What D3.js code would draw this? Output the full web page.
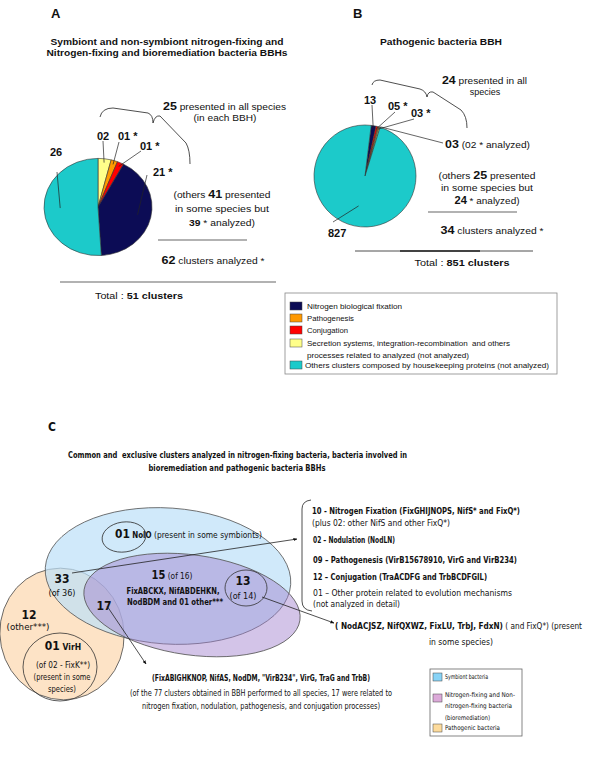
<!DOCTYPE html>
<html>
<head>
<meta charset="utf-8">
<script src="https://cdn.jsdelivr.net/npm/d3@7"></script>
<style>
  body { margin: 0; background: #fff; }
  svg { display: block; }
  text { white-space: pre; }
</style>
</head>
<body>
<svg id="fig" width="600" height="761"></svg>
<script>
// ---- data ----
const categories = [
  "Nitrogen biological fixation",
  "Pathogenesis",
  "Conjugation",
  "Secretion systems, integration-recombination  and others|processes related to analyzed (not analyzed)",
  "Others clusters composed by housekeeping proteins (not analyzed)"
];
const catColors = ["#0c0c55", "#ff9900", "#ff0000", "#ffff8a", "#1ccaca"];

// pie A, clockwise from 12 o'clock: secretion, pathogenesis, conjugation, N fixation, others
const pieAOrder = [3, 1, 2, 0, 4];
const pieAValues = [2, 1, 1, 21, 26];
const pieALabels = ["02", "01 *", "01 *", "21 *", "26"];

// pie B, clockwise: N fixation, conjugation, pathogenesis, secretion, others
const pieBOrder = [0, 2, 1, 3, 4];
const pieBValues = [13, 5, 3, 3, 827];
const pieBLabels = ["13", "05 *", "03 *", "03", "827"];

const vennGroups = [
  "Symbiont bacteria",
  "Nitrogen-fixing and Non-|nitrogen-fixing bacteria|(bioremediation)",
  "Pathogenic bacteria"
];
const vennColors = ["#88d3f6", "#dcaad9", "#fddb9c"];

const SANS = "'Liberation Sans', Arial, sans-serif";
const NARROW = "'Liberation Sans Narrow', 'DejaVu Sans Condensed', sans-serif";

const svg = d3.select("#fig");

svg.append("defs").append("marker")
    .attr("id", "arr")
    .attr("viewBox", "0 0 10 10")
    .attr("refX", 9).attr("refY", 5)
    .attr("markerWidth", 5).attr("markerHeight", 5)
    .attr("orient", "auto")
  .append("path")
    .attr("d", "M0,1 L10,5 L0,9 Z")
    .attr("fill", "#111");

// text helper: yc is the visual middle of the line
function label(x, yc, parts, opt = {}) {
  const size = opt.size || 9;
  const t = svg.append("text")
      .attr("x", x)
      .attr("y", yc + size * 0.35)
      .attr("text-anchor", opt.anchor || "start")
      .attr("font-family", opt.font || SANS)
      .attr("font-size", size)
      .attr("font-weight", opt.bold ? "bold" : null)
      .attr("fill", "#111");
  if (opt.len) t.attr("textLength", opt.len).attr("lengthAdjust", "spacingAndGlyphs");
  parts.forEach(p => {
    const s = typeof p === "string" ? { t: p } : p;
    t.append("tspan").text(s.t)
      .attr("font-weight", s.b ? "bold" : null)
      .attr("font-size", s.s || null);
  });
  return t;
}

function line(x1, y1, x2, y2, w = 0.8, marker) {
  const l = svg.append("line")
      .attr("x1", x1).attr("y1", y1).attr("x2", x2).attr("y2", y2)
      .attr("stroke", "#222").attr("stroke-width", w);
  if (marker) l.attr("marker-end", "url(#arr)");
  return l;
}

function curve(d, w = 0.8) {
  svg.append("path").attr("d", d).attr("fill", "none")
      .attr("stroke", "#222").attr("stroke-width", w);
}

// ================= A =================
label(51, 13, ["A"], { size: 13, bold: true });
label(167, 42, ["Symbiont and non-symbiont nitrogen-fixing and"], { anchor: "middle", bold: true, len: 233 });
label(167, 53, ["Nitrogen-fixing and bioremediation bacteria BBHs"], { anchor: "middle", bold: true, len: 241 });

const pieA = { cx: 98, cy: 207, r: 54, sy: 0.9 };
const arcsA = d3.pie().sort(null)(pieAValues);
const arcA = d3.arc().innerRadius(0).outerRadius(pieA.r);
const gA = svg.append("g").attr("transform", `translate(${pieA.cx},${pieA.cy}) scale(1,${pieA.sy})`);
gA.selectAll("path").data(arcsA).join("path")
    .attr("d", arcA)
    .attr("fill", (d, i) => catColors[pieAOrder[i]])
    .attr("stroke", "#333")
    .attr("stroke-width", 0.6)
    .attr("vector-effect", "non-scaling-stroke");

// slice labels and leaders
const labA = [[97, 136], [118, 136], [140, 146], [153, 172], [50, 152]];
const leadA = [[103, 141], [119, 142], [141, 151], [147, 175], [57, 172]];
const leadRA = [0.92, 0.92, 0.92, 0.75, 0.7];
arcsA.forEach((d, i) => {
  const [x, y] = labA[i];
  label(x, y, [pieALabels[i]], { size: 11, bold: true });
  const m = (d.startAngle + d.endAngle) / 2, rr = pieA.r * leadRA[i];
  line(leadA[i][0], leadA[i][1], pieA.cx + rr * Math.sin(m), pieA.cy - rr * Math.cos(m) * pieA.sy, 0.7);
});

curve("M100,117 Q102,108 113,108 L148,113 Q153,115 153,123 Q155,115 160,116 L186,143 Q190,150 190,164");
label(163, 107, [{ t: "25", b: true, s: 11 }, " presented in all species"], { len: 123 });
label(225, 118, ["(in each BBH)"], { anchor: "middle", len: 63 });

label(222, 195, ["(others ", { t: "41", b: true, s: 11 }, " presented"], { anchor: "middle", len: 97 });
label(222, 209, ["in some species but"], { anchor: "middle", len: 94 });
label(222, 223, [{ t: "39", b: true }, " * analyzed)"], { anchor: "middle", len: 66 });
line(158, 240, 247, 240, 0.7);
label(213, 261, [{ t: "62", b: true, s: 11 }, " clusters analyzed *"], { anchor: "middle", len: 103 });
line(60, 282, 276, 282, 0.7);
label(139, 296, ["Total : ", { t: "51 clusters", b: true }], { anchor: "middle", size: 9.5, len: 88 });

// ================= B =================
label(353, 13, ["B"], { size: 13, bold: true });
label(441, 42, ["Pathogenic bacteria BBH"], { anchor: "middle", bold: true, len: 122 });

const pieB = { cx: 365, cy: 176, r: 51 };
const startB = 7 * Math.PI / 180;
const arcsB = d3.pie().sort(null).startAngle(startB).endAngle(startB + 2 * Math.PI)(pieBValues);
const arcB = d3.arc().innerRadius(0).outerRadius(pieB.r);
svg.append("g").attr("transform", `translate(${pieB.cx},${pieB.cy})`)
  .selectAll("path").data(arcsB).join("path")
    .attr("d", arcB)
    .attr("fill", (d, i) => catColors[pieBOrder[i]])
    .attr("stroke", "#333")
    .attr("stroke-width", 0.6);

const labB = [[364, 100], [388, 106], [411, 113], [445, 145], [328, 233]];
const leadB = [[372, 105], [395, 112], [414, 119], [443, 143], [333, 222]];
const leadRB = [0.95, 0.95, 0.95, 1.0, 0.6];
arcsB.forEach((d, i) => {
  const [x, y] = labB[i];
  if (i === 3) label(x, y, [{ t: pieBLabels[i], b: true, s: 11 }, " (02 * analyzed)"], { len: 85 });
  else label(x, y, [pieBLabels[i]], { size: 11, bold: true });
  const m = (d.startAngle + d.endAngle) / 2, rr = pieB.r * leadRB[i];
  const ex = pieB.cx + rr * Math.sin(m), ey = pieB.cy - rr * Math.cos(m);
  if (i === 3) curve(`M${leadB[i][0]},${leadB[i][1]} L${ex + 2},${ey} L${ex},${ey}`, 0.7);
  else line(leadB[i][0], leadB[i][1], ex, ey, 0.7);
});

curve("M372,85 Q373,80 380,80 L420,89 Q426,91 427,97 Q428,91 433,92 L461,110 Q467,116 467,128");
label(442, 81, [{ t: "24", b: true, s: 11 }, " presented in all"], { len: 85 });
label(485, 92, ["species"], { anchor: "middle" });

label(487, 176, ["(others ", { t: "25", b: true, s: 11 }, " presented"], { anchor: "middle", len: 97 });
label(487, 188, ["in some species but"], { anchor: "middle", len: 92 });
label(487, 201, [{ t: "24", b: true, s: 10 }, " * analyzed)"], { anchor: "middle", len: 65 });
line(428, 212, 517, 212, 0.7);
label(492, 231, [{ t: "34", b: true, s: 11 }, " clusters analyzed *"], { anchor: "middle", len: 103 });
line(355, 251, 533, 251, 0.8);
line(400, 251, 480, 251, 1.4);
label(462, 263, ["Total : ", { t: "851 clusters", b: true }], { anchor: "middle", size: 9.5, len: 95 });

// ---- legend A ----
svg.append("rect").attr("x", 285).attr("y", 293).attr("width", 272).attr("height", 81)
    .attr("fill", "#fff").attr("stroke", "#888").attr("stroke-width", 0.8);
const legAY = [306, 318, 330, 343, 365];
const legALen = [[95], [47], [41], [203, 162], [244]];
categories.forEach((c, i) => {
  svg.append("rect").attr("x", 290).attr("y", legAY[i] - 4).attr("width", 12).attr("height", 8)
      .attr("fill", catColors[i]).attr("stroke", "#444").attr("stroke-width", 0.5);
  c.split("|").forEach((s, j) => {
    label(i === 4 ? 305 : 307, legAY[i] + j * 12, [s], { size: 7.5, len: legALen[i][j] });
  });
});

// ================= C =================
label(48, 427, ["C"], { size: 12, bold: true, font: NARROW });
label(237.5, 455, ["Common and  exclusive clusters analyzed in nitrogen-fixing bacteria, bacteria involved in"],
  { anchor: "middle", bold: true, font: NARROW, len: 339 });
label(237, 468, ["bioremediation and pathogenic bacteria BBHs"],
  { anchor: "middle", bold: true, font: NARROW, len: 177 });

// venn ellipses: pathogenic, symbiont, bioremediation
const ell = [
  { cx: 62, cy: 634, rx: 62, ry: 66, rot: -12, fill: "#fde3c6", op: 1 },
  { cx: 168, cy: 576, rx: 123, ry: 68, rot: 4, fill: "#bcdff8", op: 0.7 },
  { cx: 192, cy: 605, rx: 109, ry: 50, rot: 8, fill: "#9d7ccb", op: 0.45 }
];
ell.forEach(e => {
  svg.append("ellipse")
      .attr("transform", `translate(${e.cx},${e.cy}) rotate(${e.rot})`)
      .attr("rx", e.rx).attr("ry", e.ry)
      .attr("fill", e.fill).attr("fill-opacity", e.op)
      .attr("stroke", "#555").attr("stroke-width", 0.8);
});
// inner outlined subsets
[[124, 537, 22, 15, -8], [246, 588, 21, 18, 0], [60, 667, 37, 34, 0]].forEach(([cx, cy, rx, ry, rot]) => {
  svg.append("ellipse")
      .attr("transform", `translate(${cx},${cy}) rotate(${rot})`)
      .attr("rx", rx).attr("ry", ry)
      .attr("fill", "none").attr("stroke", "#333").attr("stroke-width", 0.8);
});

const N = { font: NARROW };
label(115, 535, [{ t: "01", b: true, s: 12 }, { t: " NolO", b: true, s: 8 }, { t: " (present in some symbionts)", s: 8.5 }], { ...N, len: 147 });
label(62, 579, ["33"], { ...N, anchor: "middle", size: 12, bold: true });
label(62, 593, ["(of 36)"], { ...N, anchor: "middle", size: 9 });
label(172, 576, [{ t: "15", b: true, s: 12 }, " (of 16)"], { ...N, anchor: "middle", size: 9, len: 41 });
label(173, 591, ["FixABCKX, NifABDEHKN,"], { ...N, anchor: "middle", size: 8, bold: true, len: 93 });
label(175, 602, ["NodBDM and 01 other***"], { ...N, anchor: "middle", size: 8, bold: true, len: 96 });
label(104, 606, ["17"], { ...N, anchor: "middle", size: 12, bold: true });
label(243, 581, ["13"], { ...N, anchor: "middle", size: 12, bold: true });
label(243, 596, ["(of 14)"], { ...N, anchor: "middle", size: 9 });
label(29, 615, ["12"], { ...N, anchor: "middle", size: 12, bold: true });
label(28, 627, ["(other***)"], { ...N, anchor: "middle", size: 9, len: 43 });
label(63, 647, [{ t: "01", b: true, s: 12 }, { t: " VirH", b: true, s: 8.5 }], { ...N, anchor: "middle" });
label(63, 665, ["(of 02 - FixK**)"], { ...N, anchor: "middle", size: 8.5, len: 54 });
label(62, 677, ["(present in some"], { ...N, anchor: "middle", size: 8.5, len: 57 });
label(62, 689, ["species)"], { ...N, anchor: "middle", size: 8.5, len: 28 });

// arrows
line(72, 573, 297, 539, 0.8, true);
line(262, 597, 334, 623, 0.8, true);
line(107, 606, 146, 664, 0.8, true);

// right list
curve("M311,500 Q302,501 302,509 L302,601 Q302,610 312,611");
label(312, 511, ["10 - Nitrogen Fixation (FixGHIJNOPS, NifS* and FixQ*)"], { ...N, size: 8.5, bold: true, len: 208 });
label(312, 523, ["(plus 02: other NifS and other FixQ*)"], { ...N, size: 8.5, len: 138 });
label(313, 540, ["02 \u2013 Nodulation (NodLN)"], { ...N, size: 8.5, bold: true, len: 82 });
label(313, 560, ["09 \u2013 Pathogenesis (VirB15678910, VirG and VirB234)"], { ...N, size: 8.5, bold: true, len: 204 });
label(313, 577, ["12 \u2013 Conjugation (TraACDFG and TrbBCDFGIL)"], { ...N, size: 8.5, bold: true, len: 174 });
label(313, 593, ["01 \u2013 Other protein related to evolution mechanisms"], { ...N, size: 8.5, len: 199 });
label(313, 604, ["(not analyzed in detail)"], { ...N, size: 8.5, len: 87 });

label(335, 626, [{ t: "( NodACJSZ, NifQXWZ, FixLU, TrbJ, FdxN)", b: true }, " ( and FixQ*) (present"], { ...N, size: 8.5, len: 247 });
label(461, 642, ["in some species)"], { ...N, anchor: "middle", size: 8.5, len: 64 });

label(261, 678, ["(FixABIGHKNOP, NifAS, NodDM, \"VirB234\", VirG, TraG and TrbB)"], { ...N, anchor: "middle", size: 8.5, bold: true, len: 218 });
label(261, 693, ["(of the 77 clusters obtained in BBH performed to all species, 17 were related to"], { ...N, anchor: "middle", size: 8.5, len: 262 });
label(261, 706, ["nitrogen fixation, nodulation, pathogenesis, and conjugation processes)"], { ...N, anchor: "middle", size: 8.5, len: 238 });

// ---- legend C ----
svg.append("rect").attr("x", 430).attr("y", 669).attr("width", 92).attr("height", 67)
    .attr("fill", "#fff").attr("stroke", "#666").attr("stroke-width", 0.8);
const legCY = [677, 698, 728];
const legCText = [[677], [695, 706, 718], [728]];
const legCLen = [[43], [70, 67, 45], [55]];
vennGroups.forEach((g, i) => {
  svg.append("rect").attr("x", 433).attr("y", legCY[i] - 4).attr("width", 9).attr("height", 8)
      .attr("fill", vennColors[i]).attr("stroke", "#444").attr("stroke-width", 0.5);
  g.split("|").forEach((s, j) => {
    label(445, legCText[i][j], [s], { ...N, size: 6.5, len: legCLen[i][j] });
  });
});
</script>
</body>
</html>
